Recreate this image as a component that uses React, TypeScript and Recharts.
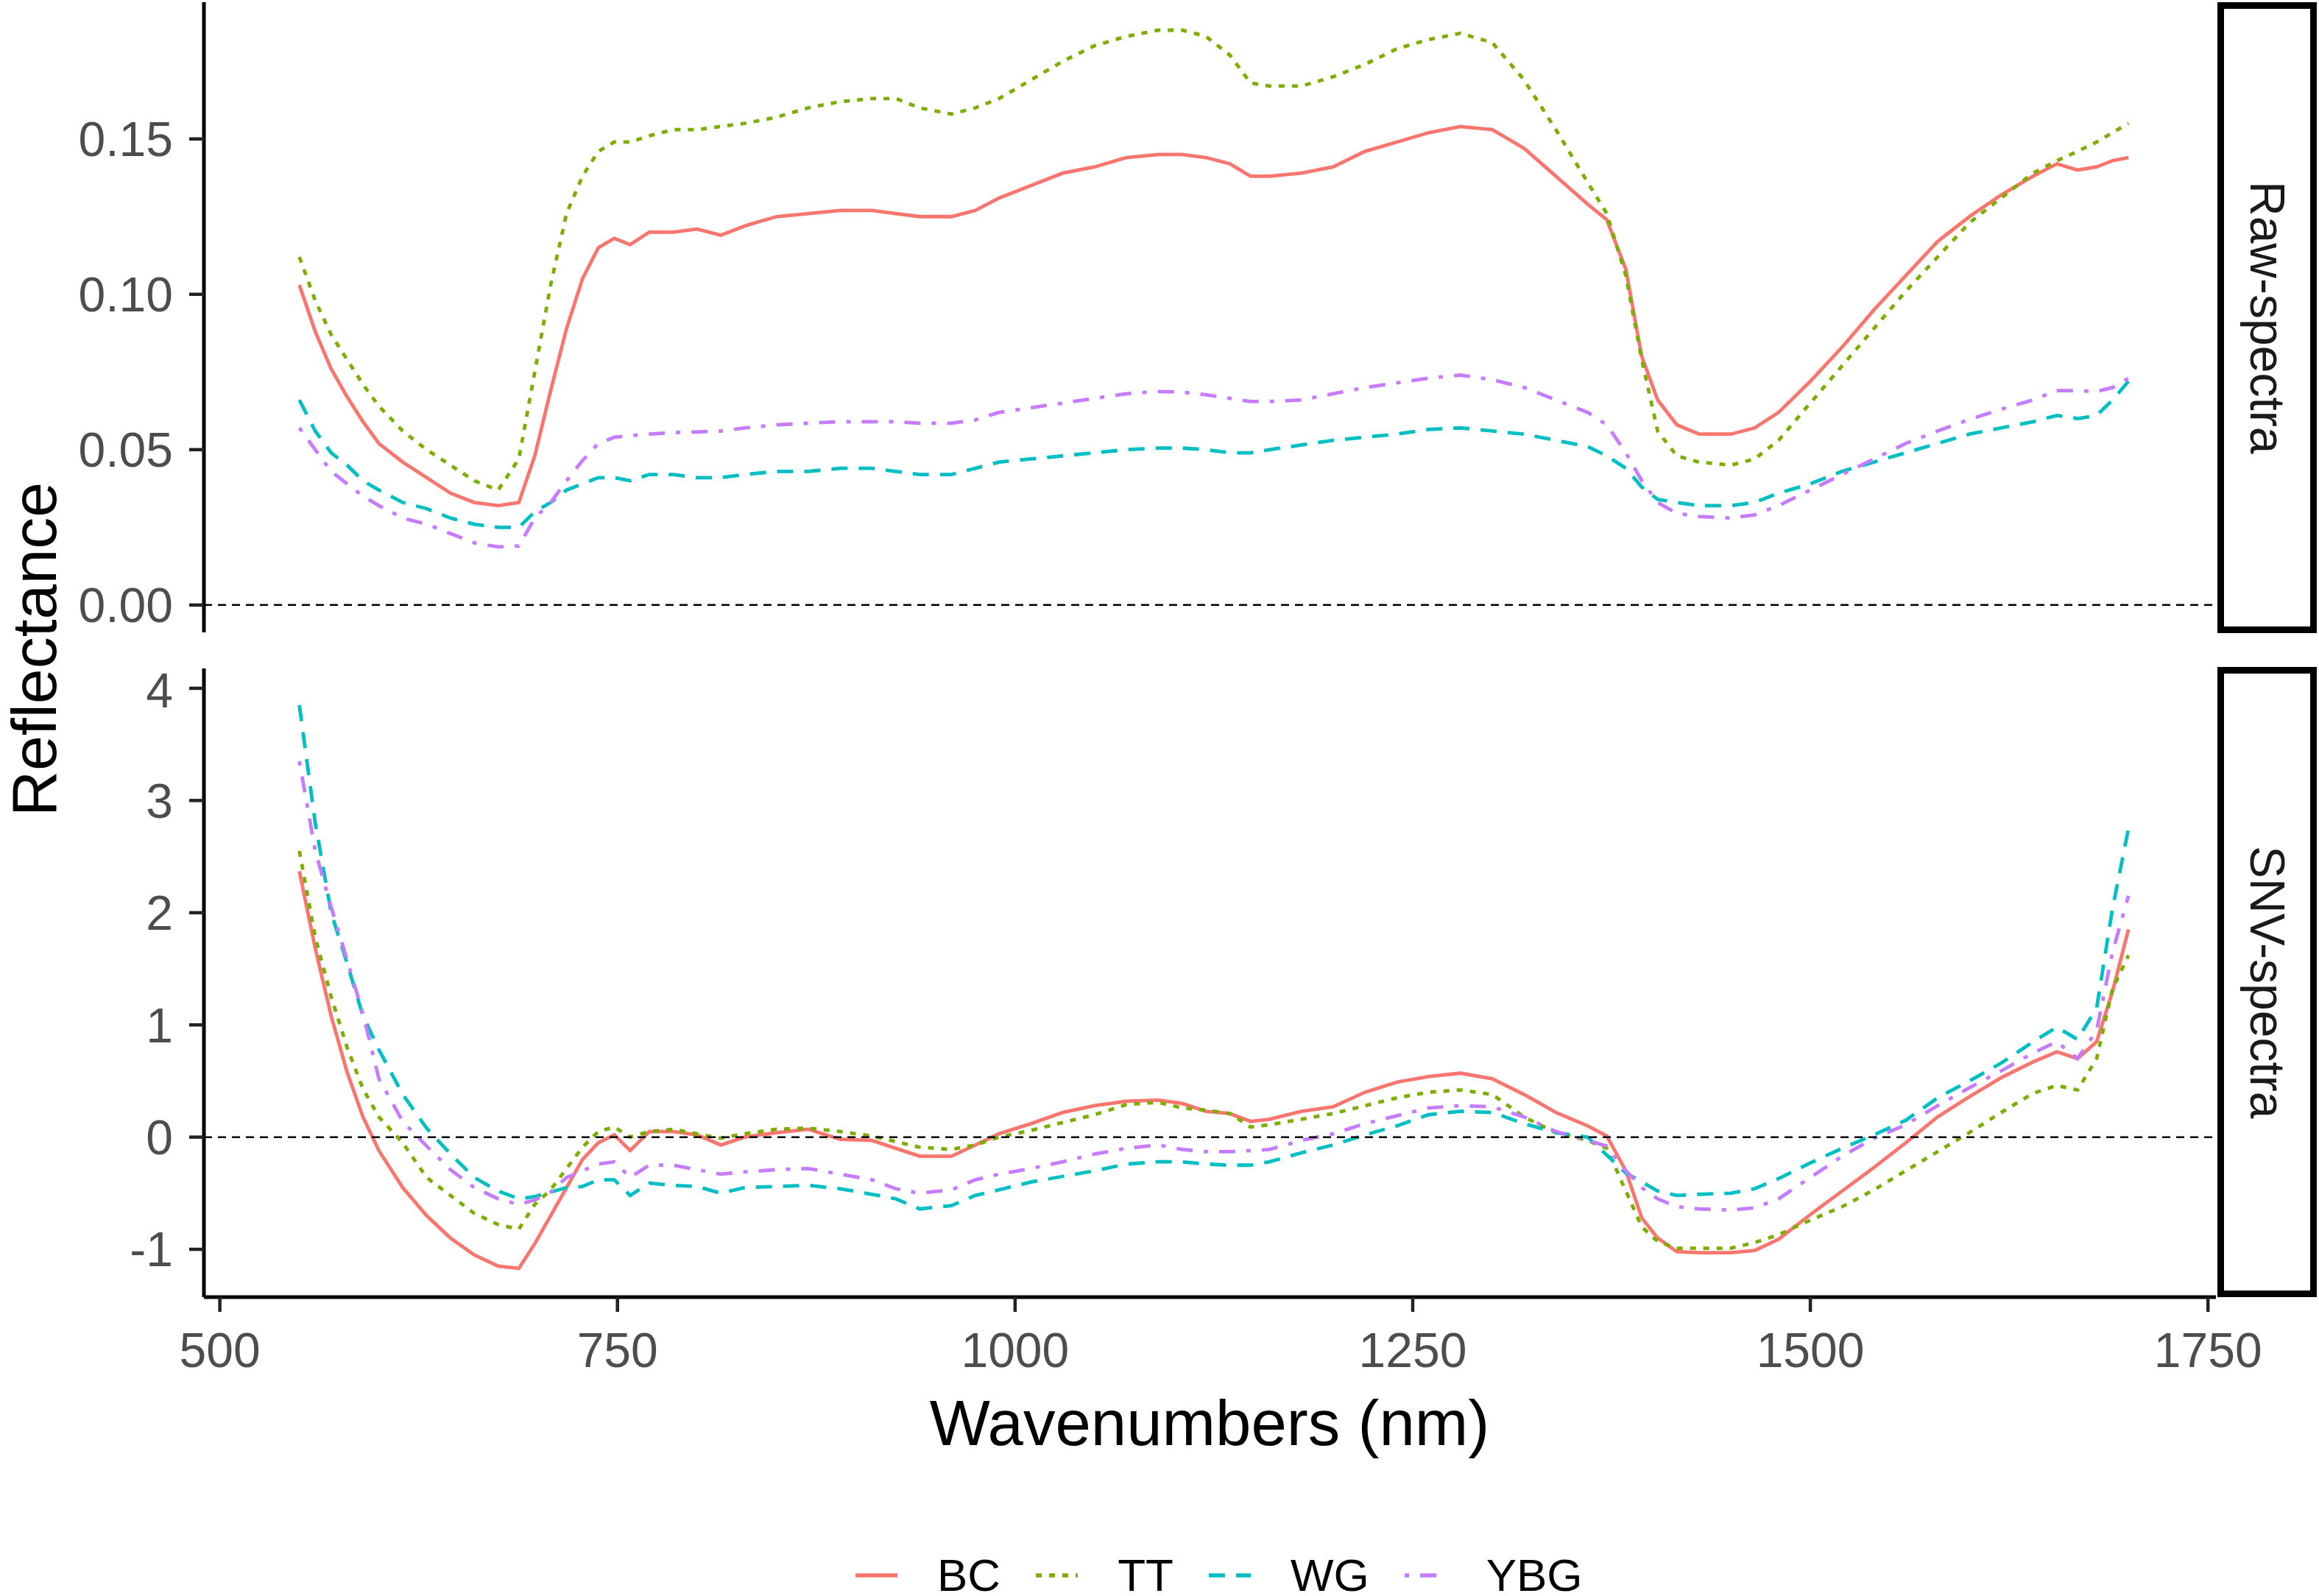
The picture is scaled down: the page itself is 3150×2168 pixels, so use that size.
import React from "react";
import { LineChart, Line, XAxis, YAxis, ReferenceLine } from "recharts";

// wavelength grid (nm)
const wavelengths = [
  550, 560, 570, 580, 590, 600, 615, 630, 645, 660, 675, 688, 698, 708, 718, 728, 738, 748, 758, 770,
  785, 800, 815, 830, 850, 870, 890, 910, 925, 940, 960, 975, 990, 1010, 1030, 1050, 1070, 1090, 1105, 1120,
  1135, 1148, 1160, 1180, 1200, 1220, 1240, 1260, 1280, 1300, 1320, 1340, 1360, 1372, 1384, 1394, 1404, 1416, 1430, 1450,
  1465, 1480, 1500, 1520, 1540, 1560, 1580, 1600, 1620, 1640, 1655, 1668, 1680, 1690, 1700,
];

// Raw-spectra reflectance
const rawBC = [
  0.103, 0.088, 0.076, 0.067, 0.059, 0.052, 0.046, 0.041, 0.036, 0.033, 0.032, 0.033, 0.048, 0.069, 0.089, 0.105, 0.115, 0.118, 0.116, 0.12,
  0.12, 0.121, 0.119, 0.122, 0.125, 0.126, 0.127, 0.127, 0.126, 0.125, 0.125, 0.127, 0.131, 0.135, 0.139, 0.141, 0.144, 0.145, 0.145, 0.144,
  0.142, 0.138, 0.138, 0.139, 0.141, 0.146, 0.149, 0.152, 0.154, 0.153, 0.147, 0.138, 0.129, 0.124, 0.108, 0.08, 0.066, 0.058, 0.055, 0.055,
  0.057, 0.062, 0.072, 0.083, 0.095, 0.106, 0.117, 0.125, 0.132, 0.138, 0.142, 0.14, 0.141, 0.143, 0.144,
];
const rawTT = [
  0.112, 0.098, 0.087, 0.079, 0.071, 0.064, 0.056, 0.05, 0.045, 0.04, 0.037, 0.047, 0.075, 0.103, 0.126, 0.138, 0.146, 0.149, 0.149, 0.151,
  0.153, 0.153, 0.154, 0.155, 0.157, 0.16, 0.162, 0.163, 0.163, 0.16, 0.158, 0.16, 0.163, 0.169, 0.175, 0.18, 0.183, 0.185, 0.185, 0.183,
  0.177, 0.168, 0.167, 0.167, 0.17, 0.174, 0.179, 0.182, 0.184, 0.181, 0.169, 0.153, 0.136, 0.126, 0.106, 0.079, 0.056, 0.048, 0.046, 0.045,
  0.047, 0.053, 0.065, 0.077, 0.089, 0.101, 0.112, 0.123, 0.131, 0.139, 0.143, 0.146, 0.149, 0.152, 0.155,
];
const rawWG = [
  0.066, 0.056, 0.049, 0.045, 0.04, 0.037, 0.033, 0.031, 0.028, 0.026, 0.025, 0.025, 0.03, 0.033, 0.037, 0.039, 0.041, 0.041, 0.04, 0.042,
  0.042, 0.041, 0.041, 0.042, 0.043, 0.043, 0.044, 0.044, 0.043, 0.042, 0.042, 0.044, 0.046, 0.047, 0.048, 0.049, 0.05, 0.0505, 0.0505, 0.05,
  0.049, 0.049, 0.05, 0.0515, 0.053, 0.054, 0.055, 0.0565, 0.057, 0.056, 0.055, 0.053, 0.051, 0.048, 0.044, 0.038, 0.034, 0.033, 0.032, 0.032,
  0.033, 0.036, 0.039, 0.043, 0.046, 0.049, 0.052, 0.055, 0.057, 0.059, 0.061, 0.06, 0.061, 0.066, 0.072,
];
const rawYBG = [
  0.057, 0.05, 0.043, 0.039, 0.035, 0.032, 0.028, 0.026, 0.023, 0.02, 0.0187, 0.019, 0.028, 0.033, 0.04, 0.0465, 0.052, 0.054, 0.0545, 0.055,
  0.0555, 0.0557, 0.056, 0.057, 0.058, 0.0585, 0.059, 0.059, 0.059, 0.0585, 0.0585, 0.0596, 0.062, 0.0635, 0.065, 0.0665, 0.068, 0.0687, 0.0685, 0.0677,
  0.0665, 0.0655, 0.0655, 0.066, 0.068, 0.07, 0.0715, 0.073, 0.074, 0.0725, 0.07, 0.066, 0.062, 0.058, 0.049, 0.04, 0.033, 0.0295, 0.0285, 0.028,
  0.029, 0.032, 0.037, 0.042, 0.047, 0.052, 0.056, 0.0597, 0.063, 0.066, 0.069, 0.069, 0.0687, 0.07, 0.073,
];

// SNV-spectra
const snvBC = [
  2.37, 1.68, 1.08, 0.58, 0.18, -0.12, -0.45, -0.7, -0.9, -1.05, -1.15, -1.17, -0.95, -0.7, -0.45, -0.2, -0.05, 0.02, -0.12, 0.05,
  0.05, 0.02, -0.07, 0.0, 0.04, 0.07, -0.02, -0.03, -0.1, -0.17, -0.17, -0.07, 0.03, 0.12, 0.22, 0.28, 0.32, 0.33, 0.3, 0.23,
  0.21, 0.14, 0.16, 0.23, 0.27, 0.4, 0.49, 0.54, 0.57, 0.52, 0.38, 0.22, 0.1, 0.01, -0.3, -0.72, -0.9, -1.02, -1.03, -1.03,
  -1.01, -0.91, -0.69, -0.48, -0.27, -0.05, 0.18, 0.36, 0.53, 0.67, 0.76, 0.7, 0.85, 1.3, 1.85,
];
const snvTT = [
  2.55, 1.78, 1.25, 0.8, 0.43, 0.18, -0.05, -0.36, -0.52, -0.68, -0.78, -0.82, -0.6, -0.47, -0.28, -0.09, 0.05, 0.09, 0.0, 0.05,
  0.07, 0.03, -0.01, 0.03, 0.07, 0.08, 0.05, 0.01, -0.04, -0.09, -0.11, -0.07, 0.0, 0.06, 0.13, 0.2, 0.29, 0.31, 0.26, 0.24,
  0.21, 0.09, 0.11, 0.16, 0.21, 0.28, 0.35, 0.4, 0.42, 0.38, 0.18, 0.04, -0.03, -0.1, -0.48, -0.8, -0.93, -0.99, -0.99, -0.99,
  -0.94, -0.87, -0.74, -0.62, -0.47, -0.3, -0.13, 0.04, 0.22, 0.39, 0.46, 0.42, 0.7, 1.32, 1.62,
];
const snvWG = [
  3.85, 2.8, 2.0, 1.55, 1.08, 0.78, 0.38, 0.08, -0.15, -0.36, -0.48, -0.55, -0.53, -0.49, -0.45, -0.44, -0.38, -0.38, -0.52, -0.41,
  -0.43, -0.44, -0.5, -0.45, -0.44, -0.43, -0.46, -0.51, -0.55, -0.64, -0.61, -0.52, -0.47, -0.4, -0.35, -0.3, -0.24, -0.22, -0.22, -0.24,
  -0.25, -0.25, -0.22, -0.14, -0.07, 0.02, 0.1, 0.2, 0.23, 0.22, 0.12, 0.04, 0.0, -0.16, -0.32, -0.4, -0.48, -0.52, -0.51, -0.5,
  -0.46, -0.37, -0.23, -0.1, 0.02, 0.15, 0.35, 0.5, 0.66, 0.85, 0.98, 0.87, 1.15, 2.04, 2.75,
];
const snvYBG = [
  3.35, 2.55, 2.05, 1.58, 1.1, 0.52, 0.14, -0.08, -0.29, -0.45, -0.55, -0.6, -0.56, -0.49, -0.36, -0.3, -0.24, -0.22, -0.36, -0.25,
  -0.25, -0.29, -0.33, -0.31, -0.29, -0.28, -0.33, -0.38, -0.46, -0.5, -0.47, -0.38, -0.33, -0.28, -0.22, -0.15, -0.1, -0.07, -0.11, -0.13,
  -0.13, -0.12, -0.11, -0.03, 0.03, 0.12, 0.19, 0.26, 0.28, 0.27, 0.18, 0.05, -0.03, -0.08, -0.3, -0.45, -0.55, -0.62, -0.64, -0.65,
  -0.63, -0.55, -0.36, -0.17, -0.01, 0.11, 0.28, 0.44, 0.59, 0.75, 0.85, 0.7, 0.95, 1.65, 2.15,
];

const groups = ["BC", "TT", "WG", "YBG"];
const rawTicks = [0, 0.05, 0.1, 0.15];
const snvTicks = [-1, 0, 1, 2, 3, 4];
const xTicks = [500, 750, 1000, 1250, 1500, 1750];

const colors: Record<string, string> = { BC: "#F8766D", TT: "#7CAE00", WG: "#00BFC4", YBG: "#C77CFF" };
const dashes: Record<string, string | undefined> = { BC: undefined, TT: "8 10", WG: "22 15", YBG: "6 15 22 15" };

const rawRows = wavelengths.map((w, i) => ({ w, BC: rawBC[i], TT: rawTT[i], WG: rawWG[i], YBG: rawYBG[i] }));
const snvRows = wavelengths.map((w, i) => ({ w, BC: snvBC[i], TT: snvTT[i], WG: snvWG[i], YBG: snvYBG[i] }));

const FONT = "'Liberation Sans', Arial, sans-serif";
const X_DOMAIN: [number, number] = [490, 1755];
const tickStyle = { fill: "#4D4D4D", fontSize: 66, fontFamily: FONT };
const axisLine = { stroke: "#000", strokeWidth: 5 };
const tickLine = { stroke: "#222", strokeWidth: 4.5 };

function series() {
  return groups.map((g) => (
    <Line
      key={g}
      type="linear"
      dataKey={g}
      stroke={colors[g]}
      strokeWidth={4.8}
      strokeDasharray={dashes[g]}
      dot={false}
      isAnimationActive={false}
    />
  ));
}

function Strip({ top, height, label }: { top: number; height: number; label: string }) {
  return (
    <div
      style={{
        position: "absolute",
        left: 3012,
        top,
        width: 135,
        height,
        boxSizing: "border-box",
        border: "9px solid #000",
        display: "flex",
        alignItems: "center",
        justifyContent: "center",
      }}
    >
      <span style={{ writingMode: "vertical-rl", fontSize: 66, fontFamily: FONT, color: "#1A1A1A" }}>{label}</span>
    </div>
  );
}

export default function App() {
  return (
    <div style={{ position: "absolute", left: 0, top: 0, width: 3150, height: 2168, background: "#fff", fontFamily: FONT }}>
      <div style={{ position: "absolute", left: 0, top: 0 }}>
        <LineChart width={3150} height={870} data={rawRows} margin={{ top: 3, right: 140, bottom: 11, left: 0 }}>
          <XAxis dataKey="w" type="number" domain={X_DOMAIN} allowDataOverflow hide />
          <YAxis
            width={277}
            domain={[-0.0088, 0.194]}
            allowDataOverflow
            ticks={rawTicks}
            tickFormatter={(v: number) => v.toFixed(2)}
            tick={tickStyle}
            tickSize={20}
            tickMargin={22}
            axisLine={axisLine}
            tickLine={tickLine}
          />
          {series()}
          <ReferenceLine y={0} stroke="#000" strokeWidth={2.5} strokeDasharray="11 8" />
        </LineChart>
      </div>

      <div style={{ position: "absolute", left: 0, top: 900 }}>
        <LineChart width={3150} height={1000} data={snvRows} margin={{ top: 8, right: 140, bottom: 0, left: 0 }}>
          <XAxis
            dataKey="w"
            type="number"
            domain={X_DOMAIN}
            allowDataOverflow
            ticks={xTicks}
            height={138}
            tick={tickStyle}
            tickSize={20}
            tickMargin={28}
            axisLine={axisLine}
            tickLine={tickLine}
          />
          <YAxis
            width={277}
            domain={[-1.426, 4.177]}
            allowDataOverflow
            ticks={snvTicks}
            tick={tickStyle}
            tickSize={20}
            tickMargin={22}
            axisLine={axisLine}
            tickLine={tickLine}
          />
          {series()}
          <ReferenceLine y={0} stroke="#000" strokeWidth={2.5} strokeDasharray="11 8" />
        </LineChart>
      </div>

      <Strip top={3} height={857} label="Raw-spectra" />
      <Strip top={906} height={856} label="SNV-spectra" />

      <div
        style={{
          position: "absolute",
          left: 46,
          top: 882,
          transform: "translate(-50%, -50%) rotate(-90deg)",
          fontSize: 86,
          lineHeight: 1,
          color: "#000",
          whiteSpace: "nowrap",
        }}
      >
        Reflectance
      </div>
      <div
        style={{
          position: "absolute",
          left: 1643,
          top: 1933,
          transform: "translate(-50%, -50%)",
          fontSize: 87,
          color: "#000",
          whiteSpace: "nowrap",
        }}
      >
        Wavenumbers (nm)
      </div>

      <div style={{ position: "absolute", left: 1162, top: 2140, transform: "translateY(-50%)", display: "flex", alignItems: "center" }}>
        {groups.map((g) => (
          <div key={g} style={{ display: "flex", alignItems: "center", marginRight: 48 }}>
            <svg width={57} height={20} style={{ marginRight: 54 }}>
              <line x1={0} y1={10} x2={57} y2={10} stroke={colors[g]} strokeWidth={5.5} strokeDasharray={dashes[g]} />
            </svg>
            <span style={{ fontSize: 62, color: "#000", lineHeight: 1 }}>{g}</span>
          </div>
        ))}
      </div>
    </div>
  );
}
